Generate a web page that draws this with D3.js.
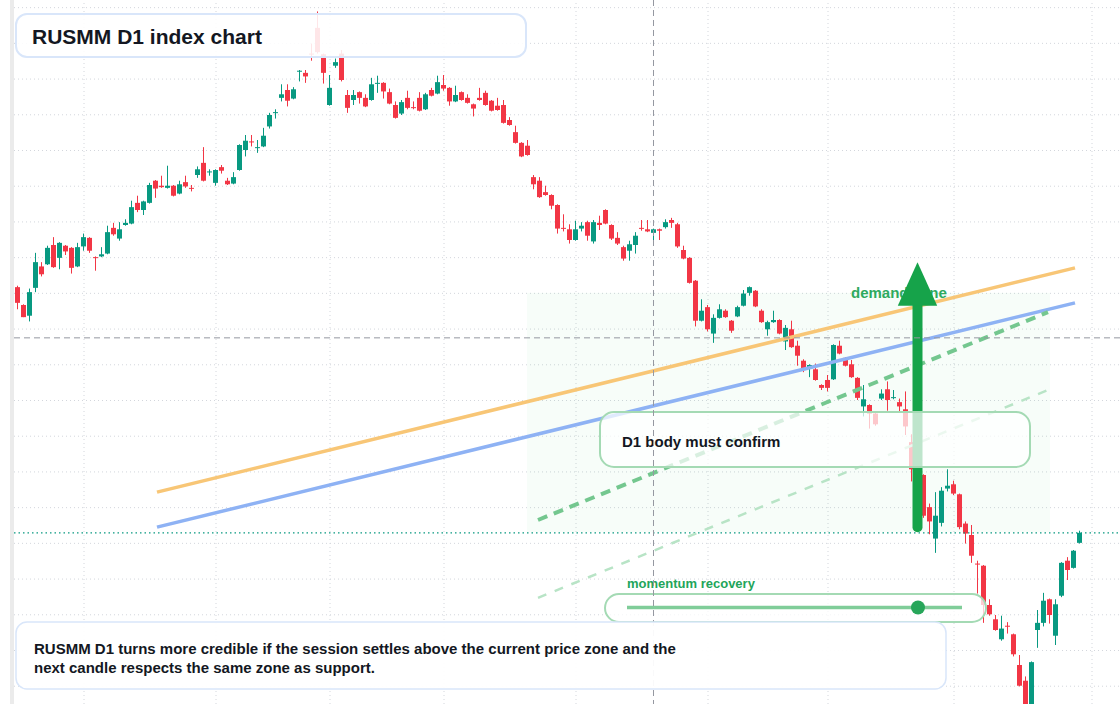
<!DOCTYPE html>
<html>
<head>
<meta charset="utf-8">
<script src="https://cdn.jsdelivr.net/npm/d3@7"></script>
<style>
  html, body { margin: 0; padding: 0; background: #fff; }
  svg { display: block; font-family: "Liberation Sans", Arial, sans-serif; }
</style>
</head>
<body>
<svg id="chart" width="1120" height="704"></svg>
<script>
// daily candles, oldest first
const opens = [3208,3183,3168,3207,3237,3240,3267,3249,3266,3263,3237,3265,3277,3250,3251,3255,3291,3276,3295,3297,
  3326,3316,3326,3357,3350,3347,3350,3339,3355,3347,3365,3382,3369,3354,3376,3357,3353,3372,3400,3412,
  3403,3405,3433,3452,3473,3484,3472,3510,3508,3535,3571,3534,3463,3518,3535,3477,3470,3481,3473,3470,
  3493,3494,3481,3463,3451,3473,3460,3473,3457,3484,3479,3491,3487,3468,3481,3473,3464,3473,3480,3469,
  3462,3463,3442,3425,3410,3406,3362,3357,3341,3337,3323,3291,3289,3274,3290,3299,3272,3298,3316,3295,
  3277,3264,3259,3267,3291,3289,3284,3289,3292,3302,3296,3260,3249,3217,3161,3180,3143,3165,3175,3161,
  3167,3182,3200,3203,3175,3149,3159,3162,3132,3149,3126,3105,3094,3093,3071,3078,3079,3126,3109,3100,
  3081,3041,3043,3031,3052,3065,3053,3047,3037,2991,2955,2945,2900,2856,2878,2926,2932,2918,2877,2861,
  2821,2818,2763,2743,2715,2734,2722,2679,2657,2613,2728,2738,2771,2720,2776,2825,2815,2850];
const highs = [3210,3184,3206,3256,3243,3266,3278,3271,3267,3264,3270,3283,3278,3251,3264,3294,3298,3299,3303,3329,
  3336,3329,3354,3358,3364,3378,3351,3357,3364,3351,3377,3404,3373,3373,3379,3361,3369,3408,3421,3421,
  3414,3431,3452,3457,3492,3492,3488,3512,3512,3549,3594,3535,3505,3528,3540,3484,3484,3482,3478,3501,
  3504,3495,3486,3468,3470,3483,3468,3481,3480,3487,3504,3505,3488,3490,3482,3478,3465,3487,3483,3470,
  3473,3470,3446,3434,3411,3414,3365,3362,3350,3338,3324,3310,3296,3301,3299,3301,3302,3308,3317,3296,
  3285,3266,3273,3285,3302,3302,3290,3290,3303,3305,3298,3266,3250,3218,3191,3183,3170,3184,3177,3162,
  3182,3204,3209,3204,3177,3161,3175,3163,3155,3161,3133,3107,3100,3101,3072,3085,3128,3133,3110,3106,
  3082,3071,3044,3032,3065,3076,3064,3052,3062,3002,2963,2946,2905,2921,2928,2953,2937,2919,2880,2875,
  2825,2819,2771,2749,2748,2739,2723,2693,2663,2684,2756,2780,2772,2771,2823,2830,2840,2867];
const lows = [3177,3166,3160,3201,3223,3239,3235,3233,3253,3227,3236,3259,3256,3231,3250,3254,3280,3273,3294,3296,
  3313,3309,3325,3333,3347,3346,3335,3338,3347,3342,3361,3356,3364,3350,3367,3351,3352,3371,3391,3405,
  3396,3404,3430,3444,3468,3461,3471,3496,3494,3525,3535,3493,3462,3515,3496,3452,3463,3465,3460,3469,
  3480,3472,3464,3444,3449,3457,3457,3454,3456,3475,3478,3483,3462,3467,3469,3465,3447,3469,3462,3454,
  3455,3437,3434,3409,3390,3392,3345,3333,3336,3317,3283,3286,3269,3273,3286,3273,3269,3288,3296,3274,
  3267,3245,3245,3255,3287,3285,3269,3274,3290,3291,3263,3247,3213,3153,3160,3146,3130,3164,3165,3144,
  3166,3181,3196,3180,3158,3140,3158,3142,3120,3123,3098,3089,3082,3077,3064,3062,3078,3114,3097,3081,
  3050,3027,3010,3014,3050,3035,3051,3034,3001,2936,2935,2885,2862,2836,2873,2922,2917,2869,2849,2822,
  2779,2738,2748,2727,2713,2723,2691,2649,2608,2608,2703,2733,2737,2707,2774,2798,2814,2849];
const closes = [3186,3166,3201,3243,3226,3263,3236,3270,3258,3235,3264,3278,3259,3249,3254,3285,3282,3289,3298,3320,
  3316,3328,3351,3346,3348,3350,3336,3352,3349,3346,3373,3357,3370,3372,3371,3352,3362,3407,3413,3411,
  3404,3420,3449,3453,3478,3469,3485,3511,3503,3534,3537,3508,3487,3523,3498,3459,3477,3473,3461,3492,
  3494,3482,3465,3445,3467,3459,3459,3455,3478,3476,3495,3486,3468,3477,3470,3466,3458,3470,3463,3455,
  3456,3438,3435,3410,3391,3393,3352,3334,3337,3322,3290,3290,3274,3289,3294,3280,3299,3295,3297,3276,
  3269,3248,3268,3280,3290,3286,3289,3287,3299,3298,3265,3248,3214,3161,3175,3149,3165,3177,3166,3147,
  3180,3199,3208,3181,3159,3159,3162,3143,3151,3124,3112,3093,3099,3078,3067,3067,3127,3115,3098,3082,
  3053,3051,3031,3016,3059,3050,3054,3041,3013,2953,2944,2888,2880,2888,2923,2930,2919,2872,2863,2832,
  2820,2763,2750,2728,2730,2733,2694,2650,2613,2683,2738,2769,2749,2764,2822,2812,2839,2864];

// grid: price levels and the candles that open a new month
const priceLevels = [3600,3550,3500,3450,3400,3350,3300,3250,3200,3150,3100,3050,3000,2950,2900,2850,2800,2750,2700,2650];
const monthStarts = [11,33,52,71,93,115,135,156,179];

// drawings, as [candle index, price]
const channelUpper = [[23.25, 2921], [176.25, 3235]];
const channelLower = [[23.25, 2872], [176.25, 3186]];
const supportDash = [[86.75, 2882], [171.75, 3173]];
const supportFaint = [[86.75, 2773], [171.75, 3064]];
const demandZone = [[84.9, 3200], [172.1, 2865]];
const arrowPath = [[150, 2872], [150, 3243]];
const crosshair = [106, 3137];

const W = 1120, H = 704;
const UP = "#089981", DOWN = "#f23645";
const svg = d3.select("#chart");

const x = d3.scaleLinear().domain([0, opens.length - 1]).range([17.5, 1079.5]);
const y = d3.scaleLinear().domain([2624.4, 3610]).range([H, 0]);

svg.append("rect").attr("width", W).attr("height", H).attr("fill", "#fff");

// grid
const gy = svg.append("g")
    .attr("transform", "translate(14,0)")
    .call(d3.axisLeft(y).tickValues(priceLevels).tickSize(-(W - 14)).tickFormat(""));
const gx = svg.append("g")
    .attr("transform", `translate(0,${H})`)
    .call(d3.axisBottom(x).tickValues(monthStarts).tickSize(-H).tickFormat(""));
[gy, gx].forEach(g => {
    g.select(".domain").remove();
    g.selectAll("line")
        .attr("stroke", "#d3d6dc")
        .attr("stroke-dasharray", "1,3");
});
svg.append("rect").attr("x", 10).attr("y", 0).attr("width", 4).attr("height", H).attr("fill", "#ebebeb");

// demand zone shading
svg.append("rect")
    .attr("x", x(demandZone[0][0]))
    .attr("y", y(demandZone[0][1]))
    .attr("width", x(demandZone[1][0]) - x(demandZone[0][0]))
    .attr("height", y(demandZone[1][1]) - y(demandZone[0][1]))
    .attr("fill", "#22c55e")
    .attr("fill-opacity", 0.035);

// candles
const idx = d3.range(opens.length);
const candles = svg.append("g");
candles.selectAll("line").data(idx).enter().append("line")
    .attr("x1", i => x(i)).attr("x2", i => x(i))
    .attr("y1", i => y(highs[i])).attr("y2", i => y(lows[i]))
    .attr("stroke", i => closes[i] >= opens[i] ? UP : DOWN)
    .attr("stroke-width", 1);
candles.selectAll("rect").data(idx).enter().append("rect")
    .attr("x", i => x(i) - 2.5)
    .attr("width", 5)
    .attr("y", i => y(Math.max(opens[i], closes[i])))
    .attr("height", i => Math.max(1, Math.abs(y(opens[i]) - y(closes[i]))))
    .attr("fill", i => closes[i] >= opens[i] ? UP : DOWN);

// last price
const last = closes[closes.length - 1];
svg.append("line")
    .attr("x1", 14).attr("x2", W)
    .attr("y1", y(last)).attr("y2", y(last))
    .attr("stroke", UP).attr("stroke-width", 1.3).attr("stroke-dasharray", "1.5,3");

// channel and support lines
const line = d3.line().x(d => x(d[0])).y(d => y(d[1]));
svg.append("path").attr("d", line(supportFaint))
    .attr("fill", "none").attr("stroke", "#b8e4c6").attr("stroke-width", 2.5).attr("stroke-dasharray", "9,9");
svg.append("path").attr("d", line(channelUpper))
    .attr("fill", "none").attr("stroke", "#f8c676").attr("stroke-width", 3.5);
svg.append("path").attr("d", line(channelLower))
    .attr("fill", "none").attr("stroke", "#8eb2f4").attr("stroke-width", 3.5);
svg.append("path").attr("d", line(supportDash))
    .attr("fill", "none").attr("stroke", "#74c78f").attr("stroke-width", 4).attr("stroke-dasharray", "10,7");

// demand zone label, partly under the arrow
svg.append("text")
    .attr("x", 851).attr("y", 298)
    .attr("fill", "#2eaa5f")
    .attr("font-size", 15).attr("font-weight", "bold")
    .text("demand zone");

// arrow
const ax = x(arrowPath[0][0]);
const tipY = y(arrowPath[1][1]);
svg.append("line")
    .attr("x1", ax).attr("x2", ax)
    .attr("y1", y(arrowPath[0][1])).attr("y2", tipY + 40)
    .attr("stroke", "#16a34a").attr("stroke-width", 10).attr("stroke-linecap", "round");
svg.append("path")
    .attr("d", `M${ax},${tipY} L${ax + 19.7},${tipY + 43.5} L${ax - 19.7},${tipY + 43.5} Z`)
    .attr("fill", "#16a34a");

// note boxes
function box(x0, y0, w, h, r, stroke, fillOpacity, sw) {
    return svg.append("rect")
        .attr("x", x0).attr("y", y0).attr("width", w).attr("height", h)
        .attr("rx", r).attr("ry", r)
        .attr("fill", "#fff").attr("fill-opacity", fillOpacity)
        .attr("stroke", stroke).attr("stroke-width", sw);
}

box(600, 412, 430, 55, 14, "#a4dab4", 0.72, 2);
svg.append("text")
    .attr("x", 622).attr("y", 446.5)
    .attr("fill", "#131722").attr("font-size", 15).attr("font-weight", "bold")
    .text("D1 body must confirm");

svg.append("text")
    .attr("x", 627).attr("y", 587.5)
    .attr("fill", "#22a55a").attr("font-size", 13).attr("font-weight", "bold")
    .text("momentum recovery");
box(605, 594, 381, 28, 14, "#a4dab4", 0.75, 2);
svg.append("line")
    .attr("x1", 627).attr("x2", 962).attr("y1", 607.5).attr("y2", 607.5)
    .attr("stroke", "#80cd99").attr("stroke-width", 3.5);
svg.append("circle")
    .attr("cx", 918).attr("cy", 607.5).attr("r", 7)
    .attr("fill", "#27a65a");

// crosshair sits over the chart drawings, under the text panels
svg.append("line")
    .attr("x1", x(crosshair[0])).attr("x2", x(crosshair[0]))
    .attr("y1", 0).attr("y2", H)
    .attr("stroke", "#9598a1").attr("stroke-dasharray", "6,4");
svg.append("line")
    .attr("x1", 14).attr("x2", W)
    .attr("y1", y(crosshair[1])).attr("y2", y(crosshair[1]))
    .attr("stroke", "#9598a1").attr("stroke-dasharray", "6,4");

box(16, 622, 930, 67, 11, "#d9e6fa", 0.94, 1.5);
svg.append("text")
    .attr("x", 34).attr("y", 654)
    .attr("fill", "#131722").attr("font-size", 15).attr("font-weight", "bold")
    .text("RUSMM D1 turns more credible if the session settles above the current price zone and the");
svg.append("text")
    .attr("x", 34).attr("y", 673)
    .attr("fill", "#131722").attr("font-size", 15).attr("font-weight", "bold")
    .text("next candle respects the same zone as support.");

box(16, 14, 510, 43, 11, "#d9e6fa", 0.88, 2);
svg.append("text")
    .attr("x", 32).attr("y", 43.5)
    .attr("fill", "#131722").attr("font-size", 21).attr("font-weight", "bold")
    .text("RUSMM D1 index chart");
</script>
</body>
</html>
